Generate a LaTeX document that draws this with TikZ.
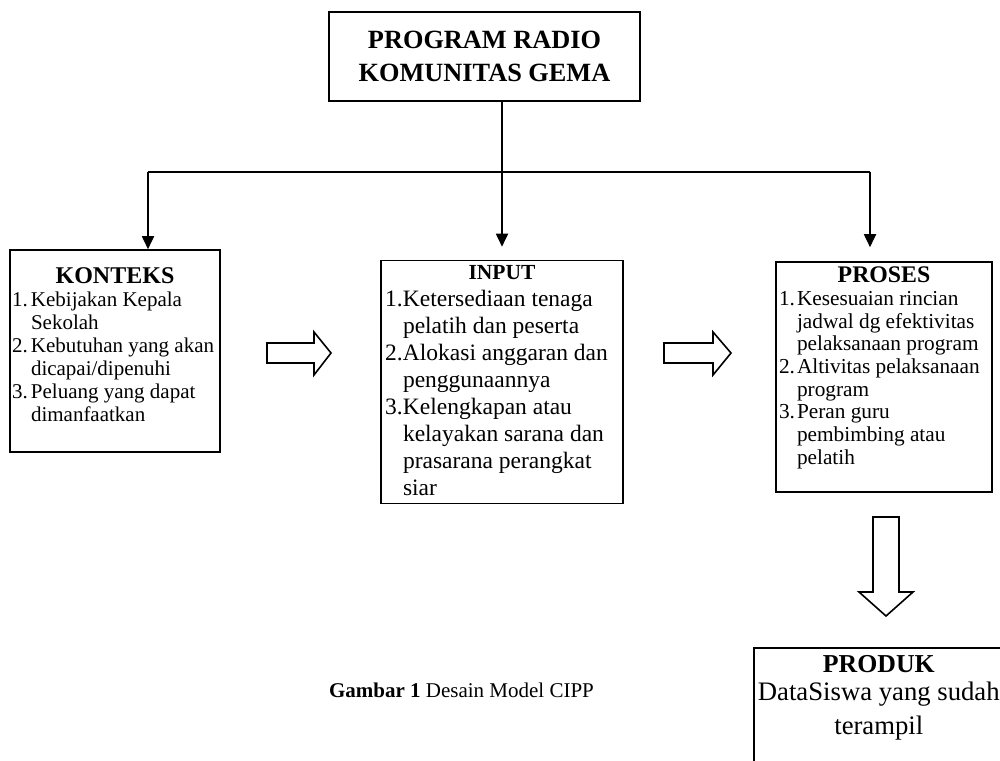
\documentclass[tikz,border=0pt]{standalone}
\usepackage{fontspec}
\setmainfont{Liberation Serif}
\usetikzlibrary{arrows.meta, calc}

\begin{document}
\begin{tikzpicture}[x=0.5pt, y=-0.5pt,
  cippbox/.style={draw, line width=0.8pt, inner sep=0pt, align=center},
  conn/.style={line width=0.9pt},
  arr/.style={conn, -{Triangle[width=6pt, length=6.5pt]}},
  blockarr/.style={draw, line width=0.8pt, fill=white, line join=miter}]
  \path[use as bounding box, fill=white] (0,0) rectangle (1000,760);

  % Program box
  \node[cippbox, minimum width=155.5pt, minimum height=44.5pt, font=\fontsize{13.15}{16.5}\selectfont\bfseries] (program) at (484.5, 56.5) {PROGRAM RADIO\\KOMUNITAS GEMA};

  % Konteks, input, proses
  \node[cippbox, minimum width=105pt, minimum height=101pt, font=\fontsize{10.5}{11.5}\selectfont] (konteks) at (115, 351) {%
    \begin{tabular}{@{}p{9.5pt}@{}l@{}}
      \multicolumn{2}{@{}c@{}}{\makebox[103pt]{\fontsize{12}{12}\selectfont\bfseries KONTEKS}}\\
      1.&Kebijakan Kepala\\
      &Sekolah\\
      2.&Kebutuhan yang akan\\
      &dicapai/dipenuhi\\
      3.&Peluang yang dapat\\
      &dimanfaatkan\\[3pt]
    \end{tabular}};

  \node[cippbox, minimum width=121pt, minimum height=121pt, font=\fontsize{11.75}{13.5}\selectfont] (input) at (502, 382) {%
    \begin{tabular}{@{}p{9pt}@{}l@{}}
      \multicolumn{2}{@{}c@{}}{\makebox[117pt]{\fontsize{10.75}{12}\selectfont\bfseries INPUT}}\\
      1.&Ketersediaan tenaga\\
      &pelatih dan peserta\\
      2.&Alokasi anggaran dan\\
      &penggunaannya\\
      3.&Kelengkapan atau\\
      &kelayakan sarana dan\\
      &prasarana perangkat\\
      &siar
    \end{tabular}};

  \node[cippbox, minimum width=108pt, minimum height=115pt, font=\fontsize{10.65}{11.35}\selectfont] (proses) at (884, 377) {%
    \begin{tabular}{@{}p{9pt}@{}l@{}}
      \multicolumn{2}{@{}c@{}}{\makebox[105pt]{\fontsize{11.9}{12}\selectfont\bfseries PROSES}}\\
      1.&Kesesuaian rincian\\
      &jadwal dg efektivitas\\
      &pelaksanaan program\\
      2.&Altivitas pelaksanaan\\
      &program\\
      3.&Peran guru\\
      &pembimbing atau\\
      &pelatih\\[8pt]
    \end{tabular}};

  % Produk (runs off the page)
  \node[cippbox, anchor=north west, minimum width=125pt, inner ysep=4pt, text depth=25pt, font=\fontsize{13.35}{17}\selectfont] (produk) at (753, 647) {{\fontsize{12.9}{14}\selectfont\bfseries PRODUK}\\[-3pt]DataSiswa yang sudah\\terampil};

  % Connectors from the program box
  \coordinate (busL) at (148, 172);
  \coordinate (busR) at (870, 172);
  \draw[conn] (program.south -| input.north) -- (input.north |- busL);
  \draw[conn] (busL) -- (busR);
  \draw[arr] (busL) -- (busL |- konteks.north);
  \draw[arr, shorten >=6.5pt] (input.north |- busL) -- (input.north);
  \draw[arr, shorten >=7pt] (busR) -- (busR |- proses.north);

  % Block arrows
  \draw[blockarr] (267, 343) -- ++(47, 0) -- ++(0, -11) -- ++(17, 21) -- ++(-17, 22) -- ++(0, -12) -- ++(-47, 0) -- cycle;
  \draw[blockarr] (664, 343) -- ++(49, 0) -- ++(0, -11) -- ++(18, 21) -- ++(-18, 22) -- ++(0, -12) -- ++(-49, 0) -- cycle;
  \draw[blockarr] (873, 517) -- ++(26, 0) -- ++(0, 75) -- ++(14, 0) -- ++(-27, 24) -- ++(-27, -24) -- ++(14, 0) -- cycle;

  % Caption
  \node[font=\fontsize{10.5}{12}\selectfont] (caption) at (461.5, 690) {\textbf{Gambar 1} Desain Model CIPP};
\end{tikzpicture}
\end{document}
